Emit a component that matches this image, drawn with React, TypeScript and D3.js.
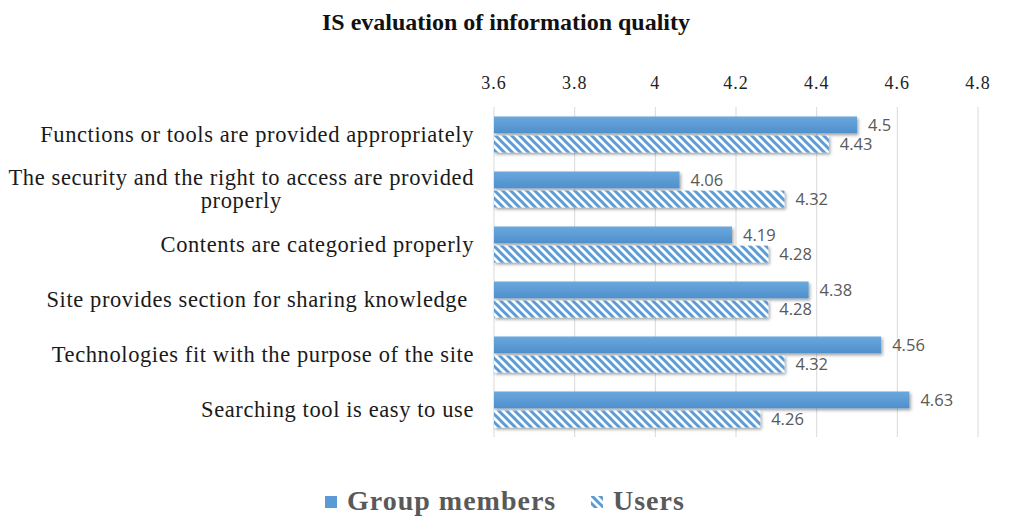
import React, { useEffect, useRef } from "react";
import * as d3 from "d3";

const title = "IS evaluation of information quality";
const categories = [
  "Functions or tools are provided appropriately",
  "The security and the right to access are provided\nproperly",
  "Contents are categoried properly",
  "Site provides section for sharing knowledge ",
  "Technologies fit with the purpose of the site",
  "Searching tool is easy to use",
];
const seriesNames = ["Group members", "Users"];
const groupMembers = [4.5, 4.06, 4.19, 4.38, 4.56, 4.63];
const users = [4.43, 4.32, 4.28, 4.28, 4.32, 4.26];
const xTicks = [3.6, 3.8, 4.0, 4.2, 4.4, 4.6, 4.8];

const W = 1009;
const H = 520;
const BLUE = "#5b9bd5";
const SERIF = "'Liberation Serif', 'Times New Roman', serif";

export default function App() {
  const ref = useRef<SVGSVGElement>(null);

  useEffect(() => {
    document.body.style.margin = "0";
    const svg = d3.select(ref.current);
    svg.selectAll("*").remove();

    const defs = svg.append("defs");
    const grad = defs.append("linearGradient").attr("id", "gbar").attr("x1", 0).attr("y1", 0).attr("x2", 0).attr("y2", 1);
    grad.append("stop").attr("offset", "0%").attr("stop-color", "#6aa8de");
    grad.append("stop").attr("offset", "100%").attr("stop-color", "#4f8fcb");

    const pat = defs.append("pattern").attr("id", "hatch").attr("patternUnits", "userSpaceOnUse")
      .attr("width", 8).attr("height", 8);
    pat.append("rect").attr("width", 8).attr("height", 8).attr("fill", "#fff");
    pat.append("path").attr("d", "M-2,-2 L10,10 M-2,6 L2,10 M6,-2 L10,2")
      .attr("stroke", BLUE).attr("stroke-width", 3);

    const filt = defs.append("filter").attr("id", "shadow").attr("x", "-5%").attr("y", "-30%").attr("width", "110%").attr("height", "170%");
    filt.append("feDropShadow").attr("dx", 1.5).attr("dy", 2).attr("stdDeviation", 1.5)
      .attr("flood-color", "#000").attr("flood-opacity", 0.35);

    const x = d3.scaleLinear().domain([3.6, 4.8]).range([494, 978]);
    const y = d3.scaleBand<string>().domain(categories).range([107, 437]).paddingInner(0.345).paddingOuter(0.1725);
    const ys = d3.scaleBand<string>().domain(seriesNames).range([0, y.bandwidth()]).paddingInner(0.12);

    // title
    svg.append("text").attr("x", 506).attr("y", 30).attr("text-anchor", "middle")
      .attr("font-family", SERIF).attr("font-weight", "bold")
      .attr("font-size", 24).attr("fill", "#111").text(title);

    // gridlines
    svg.append("g").selectAll("line").data(xTicks).join("line")
      .attr("x1", (d) => x(d)).attr("x2", (d) => x(d))
      .attr("y1", 107).attr("y2", 437)
      .attr("stroke", "#d9d9d9").attr("stroke-width", 1);

    // tick labels
    svg.append("g").selectAll("text").data(xTicks).join("text")
      .attr("x", (d) => x(d)).attr("y", 89).attr("text-anchor", "middle")
      .attr("font-family", SERIF).attr("font-size", 18).attr("letter-spacing", 1)
      .attr("fill", "#222").text((d) => String(+d.toFixed(1)));

    // category labels
    const lab = svg.append("g").attr("font-family", SERIF)
      .attr("font-size", 22.5).attr("letter-spacing", 0.6).attr("fill", "#1a1a1a");
    categories.forEach((c) => {
      const lines = c.split("\n");
      const cy = (y(c) as number) + y.bandwidth() / 2;
      if (lines.length === 1) {
        lab.append("text").attr("x", 474).attr("y", cy).attr("dy", "0.33em")
          .attr("text-anchor", "end").style("white-space", "pre").text(lines[0]);
      } else {
        const lh = 23;
        const t0 = lab.append("text").attr("x", 474).attr("y", cy - lh / 2).attr("dy", "0.33em")
          .attr("text-anchor", "end").text(lines[0]);
        const w = (t0.node() as SVGTextElement).getComputedTextLength();
        for (let i = 1; i < lines.length; i++) {
          lab.append("text").attr("x", 474 - w / 2).attr("y", cy - lh / 2 + i * lh).attr("dy", "0.33em")
            .attr("text-anchor", "middle").text(lines[i]);
        }
      }
    });

    const seriesData = [groupMembers, users];
    seriesData.forEach((vals, si) => {
      const name = seriesNames[si];
      const g = svg.append("g");
      g.selectAll("rect").data(vals).join("rect")
        .attr("x", x(3.6))
        .attr("y", (_, i) => (y(categories[i]) as number) + (ys(name) as number))
        .attr("width", (d) => x(d) - x(3.6))
        .attr("height", ys.bandwidth())
        .attr("fill", si === 0 ? "url(#gbar)" : "url(#hatch)")
        .attr("filter", "url(#shadow)");
      g.selectAll("text").data(vals).join("text")
        .attr("x", (d) => x(d) + 11)
        .attr("y", (_, i) => (y(categories[i]) as number) + (ys(name) as number) + ys.bandwidth() / 2)
        .attr("dy", "0.36em")
        .attr("font-family", "'Open Sans', 'DejaVu Sans', sans-serif").attr("font-size", 16.5)
        .attr("fill", "#595959")
        .text((d) => String(d));
    });

    // legend
    const leg = svg.append("g").attr("font-family", SERIF)
      .attr("font-weight", "bold").attr("font-size", 28).attr("letter-spacing", 1).attr("fill", "#595959");
    leg.append("rect").attr("x", 325).attr("y", 496).attr("width", 12).attr("height", 12).attr("fill", BLUE);
    leg.append("text").attr("x", 347).attr("y", 510).text(seriesNames[0]);
    leg.append("rect").attr("x", 591).attr("y", 496).attr("width", 12).attr("height", 12).attr("fill", "url(#hatch)");
    leg.append("text").attr("x", 613).attr("y", 510).text(seriesNames[1]);
  }, []);

  return <svg ref={ref} width={W} height={H} style={{ display: "block", background: "#fff" }} />;
}
